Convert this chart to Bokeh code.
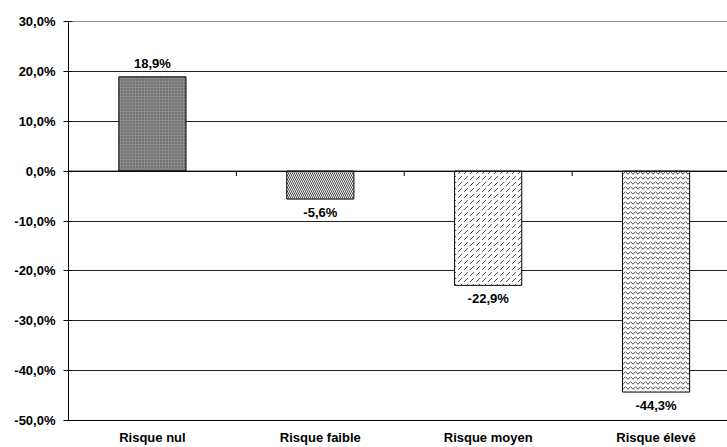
from bokeh.plotting import figure
from bokeh.models import ColumnDataSource, Range1d, FixedTicker, Span
from bokeh.core.properties import value
from bokeh.embed import file_html
from bokeh.resources import INLINE

categories = ["Risque nul", "Risque faible", "Risque moyen", "Risque élevé"]
values = [18.9, -5.6, -22.9, -44.3]
y_ticks = [-50, -40, -30, -20, -10, 0, 10, 20, 30]

FONT = "Liberation Sans"
FS = "13px"

xs = [i + 0.5 for i in range(len(categories))]
labels = [("%.1f%%" % v).replace(".", ",") for v in values]
fills = ["#8a8a8a", "white", "white", "white"]
hatches = ["dot", "left_diagonal_line", "right_diagonal_dash", "horizontal_wave"]
hscales = [3, 4, 6, 5]
hcolors = ["#505050", "#444444", "#444444", "#444444"]
baselines = ["bottom" if v >= 0 else "top" for v in values]
offs = [-6 if v >= 0 else 6 for v in values]

src = ColumnDataSource(dict(x=xs, top=values, label=labels, fill=fills, hatch=hatches,
                            hscale=hscales, hcolor=hcolors, base=baselines, off=offs))

p = figure(width=727, height=447, output_backend="svg", toolbar_location=None,
           x_range=Range1d(0, (727 - 67.5) / 168.0), y_range=Range1d(-50, 30),
           min_border_left=68, min_border_right=0, min_border_top=21, min_border_bottom=27)
p.outline_line_color = None
p.background_fill_color = "white"
p.border_fill_color = "white"

p.vbar(x="x", top="top", bottom=0, width=0.4, source=src, fill_color="fill",
       line_color="black", line_width=1, hatch_pattern="hatch", hatch_scale="hscale",
       hatch_color="hcolor", hatch_weight=1)

p.text(x="x", y="top", text="label", source=src, text_align="center",
       text_baseline="base", y_offset="off", text_font=value(FONT),
       text_font_size=FS, text_font_style="bold", text_color="black")

# y axis
p.yaxis.ticker = FixedTicker(ticks=y_ticks)
p.yaxis.major_label_overrides = {t: ("%.1f%%" % t).replace(".", ",") for t in y_ticks}
p.yaxis.major_label_text_font = FONT
p.yaxis.major_label_text_font_style = "bold"
p.yaxis.major_label_text_font_size = FS
p.yaxis.major_label_text_color = "black"
p.yaxis.axis_line_color = "black"
p.yaxis.major_tick_line_color = "black"
p.yaxis.major_tick_in = 4
p.yaxis.major_tick_out = 5
p.yaxis.minor_tick_line_color = None
p.yaxis.minor_tick_in = 0
p.yaxis.minor_tick_out = 0
p.yaxis.major_label_standoff = 8

# x axis (categories at bottom)
p.xaxis.ticker = FixedTicker(ticks=xs)
p.xaxis.major_label_overrides = {x: c for x, c in zip(xs, categories)}
p.xaxis.major_label_text_font = FONT
p.xaxis.major_label_text_font_style = "bold"
p.xaxis.major_label_text_font_size = FS
p.xaxis.major_label_text_color = "black"
p.xaxis.axis_line_color = "black"
p.xaxis.major_tick_line_color = None
p.xaxis.minor_tick_line_color = None
p.xaxis.major_tick_in = 0
p.xaxis.major_tick_out = 0
p.xaxis.minor_tick_in = 0
p.xaxis.minor_tick_out = 0
p.xaxis.major_label_standoff = 9

p.xgrid.grid_line_color = None
p.ygrid.ticker = FixedTicker(ticks=y_ticks)
p.ygrid.grid_line_color = "#222222"
p.ygrid.grid_line_width = 1

# zero axis line, top border line and category boundary ticks
p.add_layout(Span(location=0, dimension="width", line_color="black", line_width=1))
p.add_layout(Span(location=y_ticks[-1], dimension="width", line_color="#222222", line_width=1))
bounds = list(range(1, len(categories)))
p.segment(x0=bounds, x1=bounds, y0=[0] * len(bounds), y1=[-1] * len(bounds),
          line_color="black", line_width=1)

open("out.html", "w").write(file_html(p, INLINE))
